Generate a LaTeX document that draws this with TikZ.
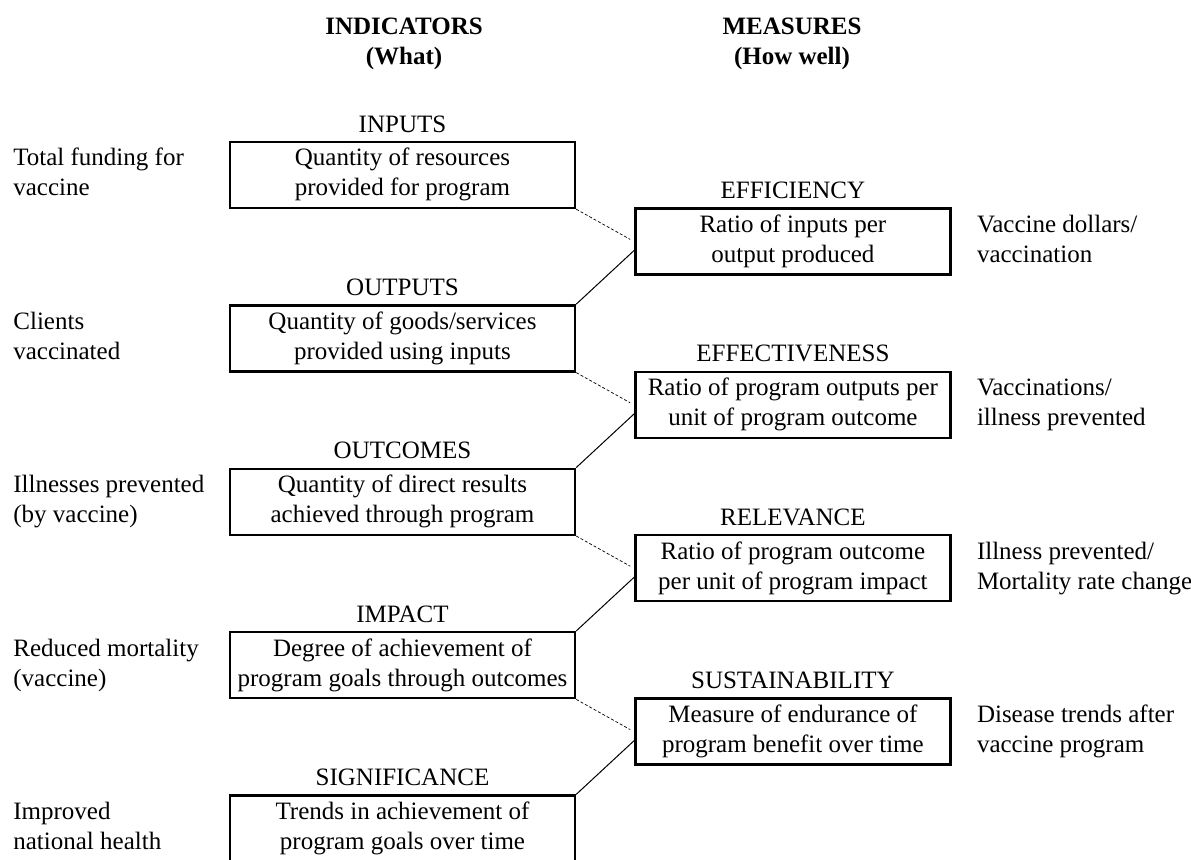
\documentclass[tikz,border=0pt]{standalone}
\usepackage{fontspec}
\setmainfont{Liberation Serif}
\usepackage{tikz}
\usetikzlibrary{positioning}
\newcommand{\twolines}[2]{\strut#1\\\strut#2}
\tikzstyle{indicator} = [rectangle, draw=black, line width=1.2pt, minimum width=172.5pt, minimum height=33pt, inner sep=0pt, align=center, font=\fontsize{12.5}{15}\selectfont]
\tikzstyle{measure} = [indicator, minimum width=157.5pt]
\tikzstyle{heading} = [inner sep=0pt, font=\fontsize{12.5}{15}\selectfont]
\tikzstyle{sidenote} = [inner sep=0pt, align=left, font=\fontsize{12.5}{15}\selectfont]
\tikzstyle{header} = [inner sep=0pt, align=center, font=\fontsize{12.5}{15}\selectfont\bfseries]
\tikzstyle{feed} = [dash pattern=on 1.5pt off 1pt, line width=0.35pt]
\tikzstyle{link} = [line width=0.5pt]

\begin{document}
\begin{tikzpicture}[x=0.5pt, y=-0.5pt, node distance=47.5pt]
    \useasboundingbox (0,0) rectangle (1191,860);

    % Column headers
    \node[header] (indhead) at (404,44) {\twolines{INDICATORS}{(What)}};
    \node[header] (meashead) at (792,44) {\twolines{MEASURES}{(How well)}};

    % Indicator boxes
    \node[indicator] (inputs) at (402.5,175) {\twolines{Quantity of resources}{provided for program}};
    \node[indicator, below=of inputs] (outputs) {\twolines{Quantity of goods/services}{provided using inputs}};
    \node[indicator, below=of outputs] (outcomes) {\twolines{Quantity of direct results}{achieved through program}};
    \node[indicator, below=of outcomes] (impact) {\twolines{Degree of achievement of}{program goals through outcomes}};
    \node[indicator, below=of impact] (significance) {\twolines{Trends in achievement of}{program goals over time}};

    % Measure boxes
    \node[measure, below right=-1pt and 29pt of inputs] (efficiency) {\twolines{Ratio of inputs per}{output produced}};
    \node[measure, below=of efficiency] (effectiveness) {\twolines{Ratio of program outputs per}{unit of program outcome}};
    \node[measure, below=of effectiveness] (relevance) {\twolines{Ratio of program outcome}{per unit of program impact}};
    \node[measure, below=of relevance] (sustainability) {\twolines{Measure of endurance of}{program benefit over time}};

    % Box titles
    \node[heading, above=4pt of inputs] (inputsname) {INPUTS};
    \node[heading, above=4pt of outputs] (outputsname) {OUTPUTS};
    \node[heading, above=4pt of outcomes] (outcomesname) {OUTCOMES};
    \node[heading, above=4pt of impact] (impactname) {IMPACT};
    \node[heading, above=4pt of significance] (significancename) {SIGNIFICANCE};
    \node[heading, above=4pt of efficiency] (efficiencyname) {EFFICIENCY};
    \node[heading, above=4pt of effectiveness] (effectivenessname) {EFFECTIVENESS};
    \node[heading, above=4pt of relevance] (relevancename) {RELEVANCE};
    \node[heading, above=4pt of sustainability] (sustainabilityname) {SUSTAINABILITY};

    % Vaccine examples, left
    \node[sidenote, anchor=west] (inputsnote) at (13,0 |- inputs) {\twolines{Total funding for}{vaccine}};
    \node[sidenote, anchor=west] (outputsnote) at (13,0 |- outputs) {\twolines{Clients}{vaccinated}};
    \node[sidenote, anchor=west] (outcomesnote) at (13,0 |- outcomes) {\twolines{Illnesses prevented}{(by vaccine)}};
    \node[sidenote, anchor=west] (impactnote) at (13,0 |- impact) {\twolines{Reduced mortality}{(vaccine)}};
    \node[sidenote, anchor=west] (significancenote) at (13,0 |- significance) {\twolines{Improved}{national health}};

    % Vaccine examples, right
    \node[sidenote, right=12.5pt of efficiency] (efficiencynote) {\twolines{Vaccine dollars/}{vaccination}};
    \node[sidenote, right=12.5pt of effectiveness] (effectivenessnote) {\twolines{Vaccinations/}{illness prevented}};
    \node[sidenote, right=12.5pt of relevance] (relevancenote) {\twolines{Illness prevented/}{Mortality rate change}};
    \node[sidenote, right=12.5pt of sustainability] (sustainabilitynote) {\twolines{Disease trends after}{vaccine program}};

    % Connectors
    \draw[feed] (inputs.south east) -- ([xshift=-2pt,yshift=1pt]efficiency.west);
    \draw[link] ([yshift=-4.5pt]efficiency.west) -- (outputs.north east);
    \draw[feed] (outputs.south east) -- ([xshift=-2pt,yshift=1pt]effectiveness.west);
    \draw[link] ([yshift=-4.5pt]effectiveness.west) -- (outcomes.north east);
    \draw[feed] (outcomes.south east) -- ([xshift=-2pt,yshift=1pt]relevance.west);
    \draw[link] ([yshift=-4.5pt]relevance.west) -- (impact.north east);
    \draw[feed] (impact.south east) -- ([xshift=-2pt,yshift=1pt]sustainability.west);
    \draw[link] ([yshift=-4.5pt]sustainability.west) -- (significance.north east);
\end{tikzpicture}
\end{document}
